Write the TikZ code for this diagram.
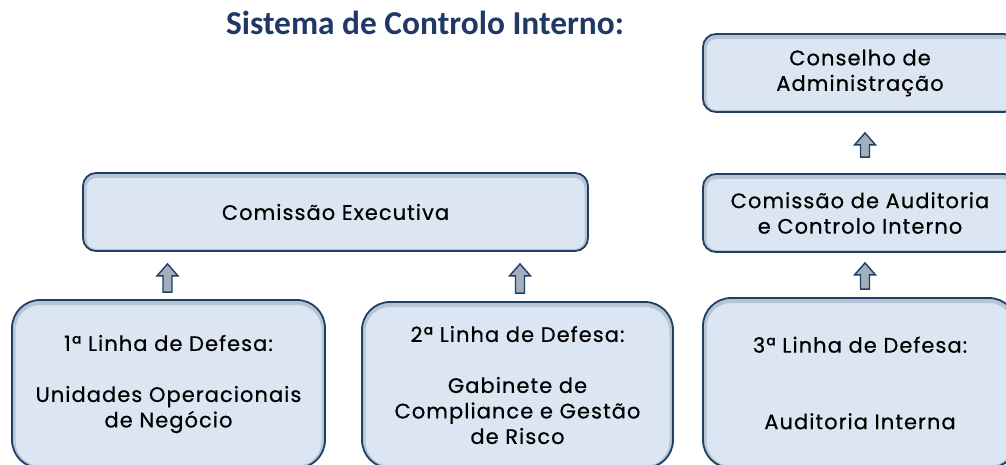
\documentclass[tikz,border=0pt]{standalone}
\usepackage{fontspec}
\setmainfont{Poppins}[LetterSpace=5,FakeBold=0.5]
\newfontfamily\titlefont{Carlito}
\usetikzlibrary{calc}
\definecolor{boxfill}{HTML}{DCE6F2}
\definecolor{boxline}{HTML}{1F3F63}
\definecolor{titleblue}{HTML}{1F3864}
\definecolor{arrowfill}{HTML}{A3AFBD}
\newcommand\uparr[2]{\path[arrowshape] let \p1=(#1), \p2=(#2) in
  (\x1-4.5pt,\y1) -- (\x1-4.5pt,\y2-12pt) -- (\x1-10.5pt,\y2-12pt) -- (\x1,\y2)
  -- (\x1+10.5pt,\y2-12pt) -- (\x1+4.5pt,\y2-12pt) -- (\x1+4.5pt,\y1) -- cycle;}
\begin{document}
\begin{tikzpicture}[x=1pt,y=-1pt,
  box/.style={draw=boxline, fill=boxfill, line width=1.8pt, align=center,
    font=\fontsize{21}{25.5}\selectfont, text=black, inner sep=0pt},
  topbox/.style={box, rounded corners=13pt,
    path picture={\draw[boxline, opacity=.2, line width=7pt, rounded corners=13pt]
      ([yshift=-1.5pt]path picture bounding box.south west) rectangle ([yshift=-1.5pt]path picture bounding box.north east);}},
  lowbox/.style={box, rounded corners=28pt,
    path picture={\draw[boxline, opacity=.2, line width=7pt, rounded corners=28pt]
      ([yshift=-1.5pt]path picture bounding box.south west) rectangle ([yshift=-1.5pt]path picture bounding box.north east);}},
  arrowshape/.style={draw=boxline, fill=arrowfill, line width=1.4pt, line join=miter},
  titlestyle/.style={font=\titlefont\bfseries\fontsize{33.4}{36}\selectfont, text=titleblue, inner sep=0pt}]
\useasboundingbox (0,0) rectangle (1006,465);
\clip (0,0) rectangle (1006,465);

\node[titlestyle, anchor=base] (title) at (425,35) {Sistema de Controlo Interno:};

\node[topbox, minimum width=314pt, minimum height=78pt] (ca) at (860,73) {Conselho de\\Administração};
\node[topbox, minimum width=314pt, minimum height=78pt] (cac) at (860,213) {Comissão de Auditoria\\e Controlo Interno};
\node[topbox, minimum width=505pt, minimum height=78pt] (ce) at (335.5,212) {Comissão Executiva};

\node[lowbox, minimum width=313pt, minimum height=168pt] (l1) at (168.5,384)
  {1ª Linha de Defesa:\\[25.5pt]Unidades Operacionais\\de Negócio};
\node[lowbox, minimum width=311pt, minimum height=166pt] (l2) at (517.5,385)
  {2ª Linha de Defesa:\\[25.5pt]Gabinete de\\Compliance e Gestão\\de Risco};
\node[lowbox, minimum width=314pt, minimum height=170pt] (l3) at (860,383)
  {3ª Linha de Defesa:\\[51pt]Auditoria Interna};

\coordinate (a1s) at ($(l1.north)+(-1,-7)$);
\coordinate (a1e) at ($(a1s |- ce.south)+(0,12)$);
\coordinate (a2s) at ($(l2.north)+(2.5,-8)$);
\coordinate (a2e) at ($(a2s |- ce.south)+(0,12)$);
\coordinate (a3s) at ($(cac.north)+(5,-16)$);
\coordinate (a3e) at ($(a3s |- ca.south)+(0,20)$);
\coordinate (a4s) at ($(l3.north)+(5,-8)$);
\coordinate (a4e) at ($(a4s |- cac.south)+(0,10)$);

\uparr{a1s}{a1e}
\uparr{a2s}{a2e}
\uparr{a3s}{a3e}
\uparr{a4s}{a4e}
\end{tikzpicture}
\end{document}
